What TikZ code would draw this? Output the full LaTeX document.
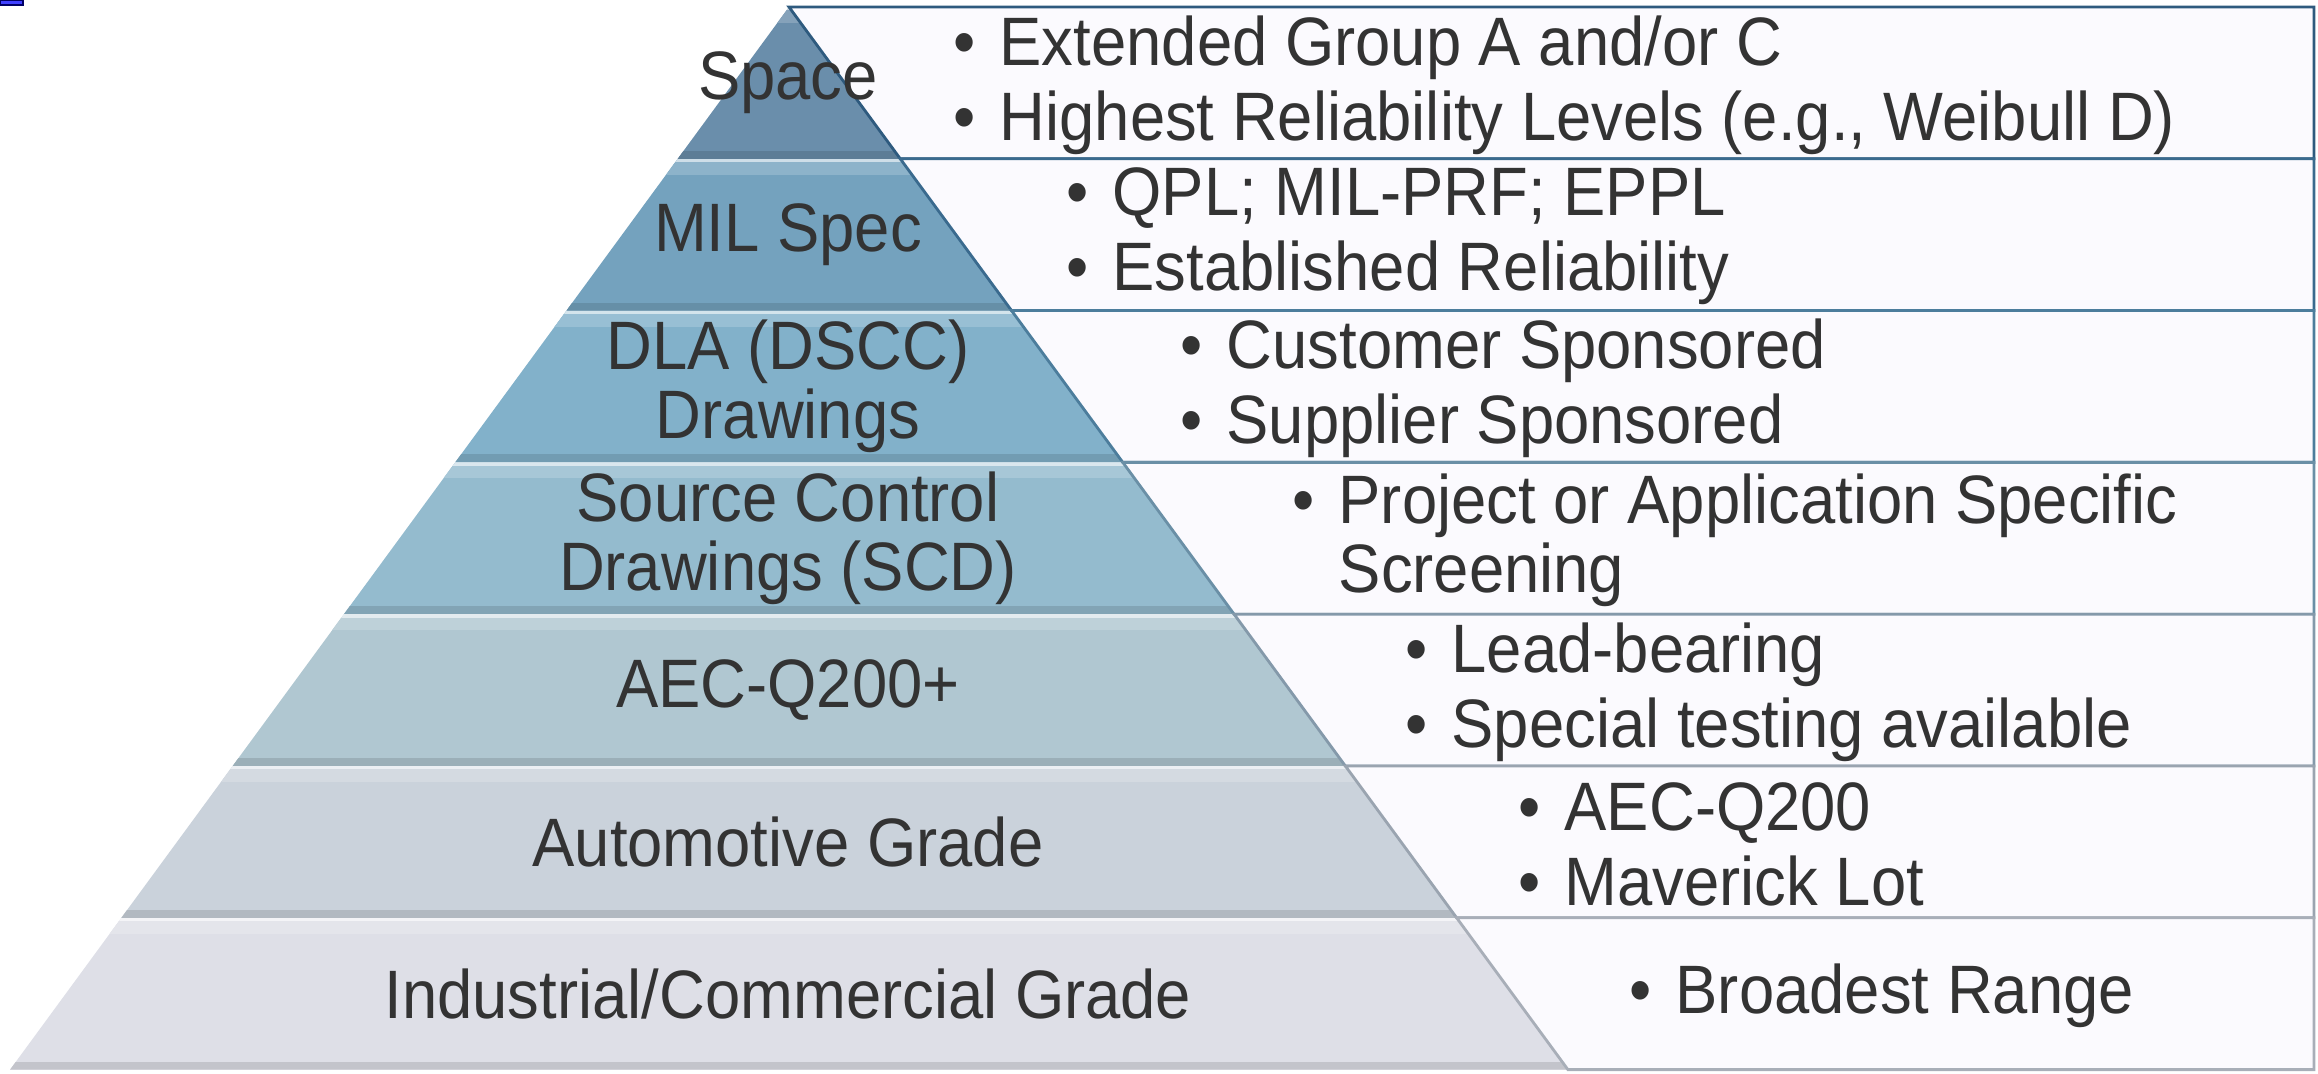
\documentclass[tikz,border=0pt]{standalone}
\usepackage{fontspec}
\setmainfont{Liberation Sans}[FakeStretch=0.925]
%% layer fills, top (Space) to bottom (Industrial)
\definecolor{lyrA}{HTML}{6A8EAB}
\definecolor{lyrB}{HTML}{74A2BE}
\definecolor{lyrC}{HTML}{82B1CA}
\definecolor{lyrD}{HTML}{94BBCE}
\definecolor{lyrE}{HTML}{B0C7D1}
\definecolor{lyrF}{HTML}{CAD2DB}
\definecolor{lyrG}{HTML}{DEDFE7}
%% spec box borders
\definecolor{edgeA}{HTML}{2E5A7E}
\definecolor{edgeB}{HTML}{3A6A8E}
\definecolor{edgeC}{HTML}{4C7D9C}
\definecolor{edgeD}{HTML}{6A8FA6}
\definecolor{edgeE}{HTML}{8499AA}
\definecolor{edgeF}{HTML}{9AA4B0}
\definecolor{edgeG}{HTML}{A8AEB8}
\definecolor{boxbg}{HTML}{FBFAFE}
\definecolor{txt}{HTML}{333333}
\newcommand{\bul}{\makebox[0.46cm][l]{\textbullet}}

\begin{document}
\begin{tikzpicture}[
    font=\fontsize{19.5}{19.6}\selectfont, text=txt,
    lvl/.style={align=center, inner sep=0pt},
    spec/.style={align=left, anchor=west, inner sep=0pt},
    specbox/.style={fill=boxbg, line width=0.8pt}]
  \useasboundingbox (0,0) rectangle (23.18,10.74);
  %% Stray mark, top-left corner
  \fill[blue!75!white, draw=blue!40!black] (0,10.74) rectangle (0.23,10.69);

  %% Pyramid layers (apex 7.89/10.67, step 1.518, slope 0.733)
  \foreach \i/\col in {1/lyrA,2/lyrB,3/lyrC,4/lyrD,5/lyrE,6/lyrF,7/lyrG}{
    \pgfmathsetmacro\yt{10.67-1.518*(\i-1)}
    \pgfmathsetmacro\yb{\yt-1.518}
    \pgfmathsetmacro\xlt{7.89-0.733*(10.67-\yt)}
    \pgfmathsetmacro\xrt{7.89+0.733*(10.67-\yt)}
    \pgfmathsetmacro\xlb{7.89-0.733*(10.67-\yb)}
    \pgfmathsetmacro\xrb{7.89+0.733*(10.67-\yb)}
    \begin{scope}
      \clip (\xlt,\yt) -- (\xrt,\yt) -- (\xrb,\yb) -- (\xlb,\yb) -- cycle;
      \fill[\col] (0,\yb) rectangle (16,\yt);
      %% bevel: light rim on top, shadow at the foot
      \fill[\col!35!white] (0,\yt-0.035) rectangle (16,\yt);
      \fill[\col!82!white] (0,\yt-0.16) rectangle (16,\yt-0.035);
      \fill[\col!88!black] (0,\yb) rectangle (16,\yb+0.08);
    \end{scope}
  }

  %% Spec boxes right of the pyramid
  \foreach \i/\edg in {1/edgeA,2/edgeB,3/edgeC,4/edgeD,5/edgeE,6/edgeF,7/edgeG}{
    \pgfmathsetmacro\yt{10.67-1.518*(\i-1)}
    \pgfmathsetmacro\yb{\yt-1.518}
    \pgfmathsetmacro\xt{7.89+0.733*(10.67-\yt)}
    \pgfmathsetmacro\xb{7.89+0.733*(10.67-\yb)}
    \draw[specbox, draw=\edg] (\xt,\yt) -- (23.14,\yt) -- (23.14,\yb) -- (\xb,\yb) -- cycle;
  }

  %% Level labels
  \foreach \i/\lbl in {1/Space, 2/MIL Spec, 3/{DLA (DSCC)\\Drawings},
      4/{Source Control\\Drawings (SCD)}, 5/AEC-Q200+, 6/Automotive Grade,
      7/{Industrial/Commercial Grade}}{
    \pgfmathsetmacro\yc{10.67-1.518*(\i-0.5)}
    \node[lvl] (lvl\i) at (7.88,\yc) {\lbl};
  }

  %% Spec texts
  \node[spec] (spec1) at (9.53,9.89)
    {\bul Extended Group A and/or C\\[1.7pt]\bul Highest Reliability Levels (e.g., Weibull D)};
  \node[spec] (spec2) at (10.66,8.375)
    {\bul QPL; MIL-PRF; EPPL\\[1.7pt]\bul Established Reliability};
  \node[spec] (spec3) at (11.80,6.86)
    {\bul Customer Sponsored\\[1.7pt]\bul Supplier Sponsored};
  \node[spec] (spec4) at (12.92,5.34)
    {\bul Project or Application Specific\\\hphantom{\bul}Screening};
  \node[spec] (spec5) at (14.05,3.82)
    {\bul Lead-bearing\\[1.7pt]\bul Special testing available};
  \node[spec] (spec6) at (15.18,2.30)
    {\bul AEC-Q200\\[1.7pt]\bul Maverick Lot};
  \node[spec] (spec7) at (16.29,0.785) {\bul Broadest Range};
\end{tikzpicture}
\end{document}
